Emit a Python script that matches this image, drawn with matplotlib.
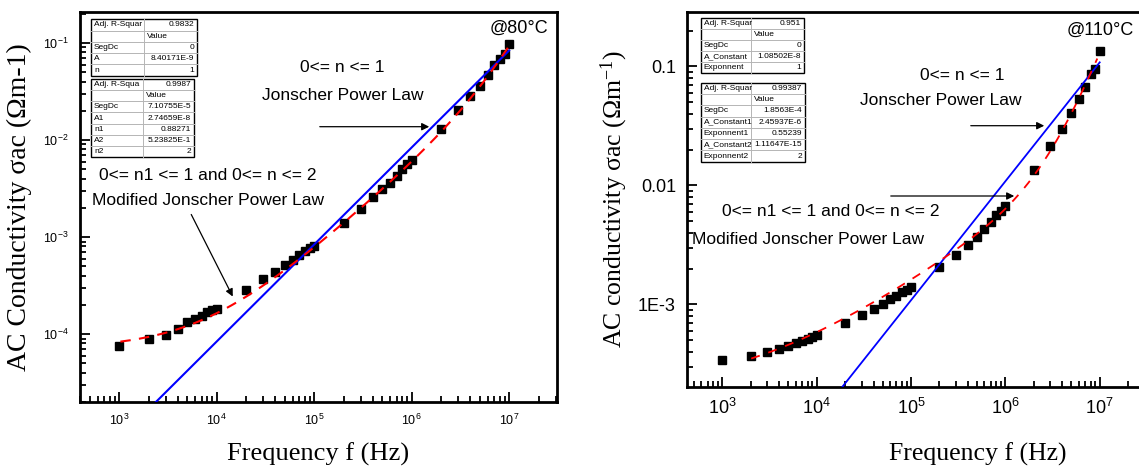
import matplotlib

matplotlib.use("Agg")

import matplotlib.pyplot as plt
import numpy as np
from matplotlib.patches import Rectangle
from matplotlib.lines import Line2D

W, H = 1139, 467

# ---- data: 80 C panel ----
FREQ = [1e3, 2e3, 3e3, 4e3, 5e3, 6e3, 7e3, 8e3, 9e3,
        1e4, 2e4, 3e4, 4e4, 5e4, 6e4, 7e4, 8e4, 9e4,
        1e5, 2e5, 3e5, 4e5, 5e5, 6e5, 7e5, 8e5, 9e5,
        1e6, 2e6, 3e6, 4e6, 5e6, 6e6, 7e6, 8e6, 9e6, 1e7]

SIGMA_80 = [7.6e-5, 8.9e-5, 9.8e-5, 1.14e-4, 1.32e-4, 1.43e-4, 1.54e-4, 1.69e-4, 1.78e-4,
            1.82e-4, 2.88e-4, 3.74e-4, 4.38e-4, 5.2e-4, 5.8e-4, 6.6e-4, 7.2e-4, 7.8e-4,
            8.1e-4, 1.41e-3, 1.96e-3, 2.56e-3, 3.13e-3, 3.6e-3, 4.3e-3, 5.0e-3, 5.6e-3,
            6.2e-3, 1.3e-2, 2.03e-2, 2.83e-2, 3.64e-2, 4.65e-2, 5.9e-2, 6.9e-2, 7.8e-2, 9.8e-2]

SIGMA_110 = [3.39e-4, 3.7e-4, 3.95e-4, 4.23e-4, 4.46e-4, 4.7e-4, 4.89e-4, 5.1e-4, 5.35e-4,
             5.52e-4, 6.97e-4, 8.09e-4, 9.08e-4, 1.01e-3, 1.11e-3, 1.17e-3, 1.26e-3, 1.32e-3,
             1.40e-3, 2.05e-3, 2.58e-3, 3.15e-3, 3.7e-3, 4.3e-3, 4.94e-3, 5.6e-3, 6.1e-3,
             6.7e-3, 1.35e-2, 2.14e-2, 2.99e-2, 4.03e-2, 5.28e-2, 6.75e-2, 8.57e-2, 9.47e-2, 0.135]

# fit parameters (Jonscher / modified Jonscher)
A_80, N_80 = 8.40171e-9, 1.0
FIT2_80 = (7.10755e-5, 2.74659e-8, 0.88271, 5.23825e-16, 2.0)
A_110, N_110 = 1.08502e-8, 1.0
FIT2_110 = (1.8563e-4, 2.45937e-6, 0.55239, 1.11647e-15, 2.0)

TABLE1_80 = [["Adj. R-Squar", "0.9832"], ["", "Value"], ["SegDc", "0"],
             ["A", "8.40171E-9"], ["n", "1"]]
TABLE2_80 = [["Adj. R-Squa", "0.9987"], ["", "Value"], ["SegDc", "7.10755E-5"],
             ["A1", "2.74659E-8"], ["n1", "0.88271"], ["A2", "5.23825E-1"], ["n2", "2"]]
TABLE1_110 = [["Adj. R-Squar", "0.951"], ["", "Value"], ["SegDc", "0"],
              ["A_Constant", "1.08502E-8"], ["Exponnent", "1"]]
TABLE2_110 = [["Adj. R-Squar", "0.99387"], ["", "Value"], ["SegDc", "1.8563E-4"],
              ["A_Constant1", "2.45937E-6"], ["Exponnent1", "0.55239"],
              ["A_Constant2", "1.11647E-15"], ["Exponnent2", "2"]]

SANS = "Liberation Sans"
SERIF = "Liberation Serif"


def px(x, y):
    return x / W, 1 - y / H


def draw_table(fig, rows, x0, x1, xs, y0, y1, fs=6.0):
    n = len(rows)
    rh = (y1 - y0) / n
    for i in range(1, n):
        y = y0 + i * rh
        fig.add_artist(Line2D([x0 / W, x1 / W], [1 - y / H] * 2, color="#b5b5b5", lw=0.7))
    fig.add_artist(Line2D([xs / W] * 2, [1 - y0 / H, 1 - y1 / H], color="#b5b5b5", lw=0.7))
    fig.add_artist(Rectangle(px(x0, y1), (x1 - x0) / W, (y1 - y0) / H, fill=False,
                             ec="black", lw=1.0))
    for i, (a, b) in enumerate(rows):
        yc = y0 + (i + 0.5) * rh
        fig.text(*px(x0 + 3, yc), a, fontsize=fs, family=SANS, ha="left", va="center")
        if b == "Value":
            fig.text(*px(xs + 3, yc), b, fontsize=fs, family=SANS, ha="left", va="center")
        else:
            fig.text(*px(x1 - 3, yc), b, fontsize=fs, family=SANS, ha="right", va="center")


def arrow(fig, x0, y0, x1, y1):
    fig.add_artist(matplotlib.patches.FancyArrowPatch(
        px(x0, y0), px(x1, y1), transform=fig.transFigure, arrowstyle="-|>",
        mutation_scale=11, lw=0.9, color="black"))


def style_axes(ax, fs):
    ax.set_xscale("log")
    ax.set_yscale("log")
    for s in ax.spines.values():
        s.set_linewidth(2.0)
    ax.tick_params(which="both", direction="in", top=False, right=False, width=1.3)
    ax.tick_params(which="major", length=7, labelsize=fs, pad=8)
    ax.tick_params(which="minor", length=4)
    ax.set_xticks([1e3, 1e4, 1e5, 1e6, 1e7])
    ax.set_xticklabels([r"$\mathregular{10^{%d}}$" % k for k in range(3, 8)], family=SANS)


plt.rcParams["font.family"] = SANS
fig = plt.figure(figsize=(W / 100, H / 100), dpi=100)

f = np.logspace(2.5, 7.6, 400)

# ---- left panel ----
ax1 = fig.add_axes([80 / W, 1 - 402 / H, 477 / W, 390 / H])
style_axes(ax1, 9)
ax1.set_xlim(10 ** 2.597, 10 ** 7.49)
ax1.set_ylim(10 ** -4.70, 10 ** -0.68)
ax1.set_yticks([1e-4, 1e-3, 1e-2, 1e-1])
ax1.set_yticklabels([r"$\mathregular{10^{%d}}$" % k for k in range(-4, 0)], family=SANS)
fb = f[(f >= 1e3) & (f <= 1e7)]
ax1.plot(fb, A_80 * fb ** N_80, color="#0000ff", lw=1.5, zorder=3)
c0, a1, n1, a2, n2 = FIT2_80
ax1.plot(FREQ, SIGMA_80, "s", color="black", ms=6, zorder=2)
ax1.plot(fb, c0 + a1 * fb ** n1 + a2 * fb ** n2, color="#ff0000", lw=1.5,
         ls=(0, (5, 4)), zorder=4)
ax1.set_xlabel("Frequency f (Hz)", family=SERIF, fontsize=19, labelpad=10)
ax1.set_ylabel("AC Conductivity σac (Ωm-1)", family=SERIF, fontsize=20, labelpad=8)

# ---- right panel ----
ax2 = fig.add_axes([687 / W, 1 - 386.7 / H, 459 / W, 374.7 / H])
style_axes(ax2, 13)
ax2.set_xlim(10 ** 2.625, 10 ** 7.49)
ax2.set_ylim(10 ** -3.692, 10 ** -0.542)
ax2.set_yticks([1e-3, 1e-2, 1e-1])
ax2.set_yticklabels(["1E-3", "0.01", "0.1"], family=SANS)
fr = f[(f >= 1.5e4) & (f <= 1e7)]
ax2.plot(fr, A_110 * fr ** N_110, color="#0000ff", lw=1.3, zorder=3)
ax2.plot(FREQ, SIGMA_110, "s", color="black", ms=5.5, zorder=2)
c0, a1, n1, a2, n2 = FIT2_110
fr2 = f[(f >= 2e3) & (f <= 9.5e6)]
ax2.plot(fr2, c0 + a1 * fr2 ** n1 + a2 * fr2 ** n2, color="#ff0000", lw=1.3,
         ls=(0, (5, 5)), zorder=4)
ax2.set_xlabel("Frequency f (Hz)", family=SERIF, fontsize=18.5, labelpad=10)
ax2.xaxis.set_label_coords((978 - 687) / 459, -0.15)
ax2.set_ylabel(r"AC conductivity σac (Ωm$\mathregular{^{-1}}$)", family=SERIF,
               fontsize=18.5, labelpad=6)

# ---- annotations ----
fs = 12.5
fig.text(*px(490, 28), "@80\u00b0C", fontsize=13, va="center", ha="left")
fig.text(*px(300, 68), "0<= n <= 1", fontsize=fs, va="center")
fig.text(*px(262, 95), "Jonscher Power Law", fontsize=fs, va="center")
fig.text(*px(99, 176), "0<= n1 <= 1 and 0<= n <= 2", fontsize=fs, va="center")
fig.text(*px(92, 201), "Modified Jonscher Power Law", fontsize=fs, va="center")
arrow(fig, 317, 126.7, 432, 126.7)
arrow(fig, 190, 212, 234, 299)

fig.text(*px(1067, 30), "@110\u00b0C", fontsize=13, va="center", ha="left")
fig.text(*px(920, 76), "0<= n <= 1", fontsize=fs, va="center")
fig.text(*px(860, 100), "Jonscher Power Law", fontsize=fs, va="center")
fig.text(*px(722, 212), "0<= n1 <= 1 and 0<= n <= 2", fontsize=fs, va="center")
fig.text(*px(692, 239), "Modified Jonscher Power Law", fontsize=fs, va="center")
arrow(fig, 968, 125.7, 1047, 125.7)
arrow(fig, 888, 196, 1017, 196)

draw_table(fig, TABLE1_80, 91, 197, 144, 19.3, 75.7)
draw_table(fig, TABLE2_80, 91, 194, 143, 79.3, 156.7)
draw_table(fig, TABLE1_110, 700.5, 804, 751, 18.3, 73.3)
draw_table(fig, TABLE2_110, 700.5, 805, 751, 82.7, 161.7)

fig.savefig("out.png", dpi=100)
